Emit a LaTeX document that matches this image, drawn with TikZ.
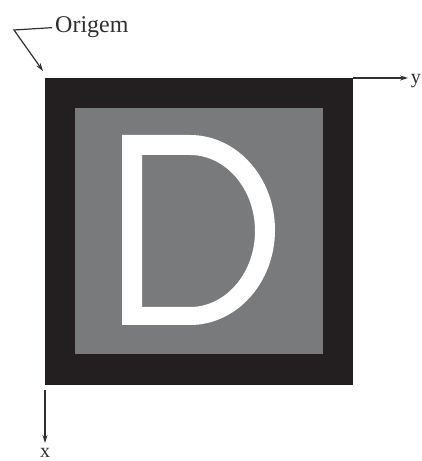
\documentclass[tikz,border=0pt]{standalone}
\usepackage{fontspec}
\setmainfont{Liberation Serif}
\usetikzlibrary{arrows.meta}
\definecolor{frameblack}{HTML}{231F20}
\definecolor{panelgray}{HTML}{797A7C}
\definecolor{inkline}{HTML}{303030}
\begin{document}
\begin{tikzpicture}[x=1pt,y=1pt,
  axisarrow/.style={-{Stealth[length=8pt,width=5pt]}, line width=1.2pt, draw=inkline},
  lbl/.style={font=\fontsize{24}{26}\selectfont, inner sep=0pt, text=inkline}]
\useasboundingbox (0,0) rectangle (422,461);
% frame and panel
\fill[frameblack] (45,383) rectangle (353,76);
\fill[panelgray] (75,353) rectangle (323,107);
% letter D
\fill[white, even odd rule]
  (122,326) -- (190,326) arc[start angle=90, end angle=-90, x radius=85, y radius=95] -- (122,136) -- cycle
  (142,306) -- (190,306) arc[start angle=90, end angle=-90, x radius=65, y radius=76] -- (142,154) -- cycle;
% labels
\node[lbl, anchor=base west] (orig) at (55,428) {Origem};
\node[lbl, font=\fontsize{20}{22}\selectfont, anchor=base east] (ylab) at (421,377) {y};
\node[lbl, font=\fontsize{20}{22}\selectfont, anchor=base] (xlab) at (45,3) {x};
% connector points
\coordinate (bend) at (14,431);
\coordinate (corner) at (43,390);
\coordinate (ystart) at (353,383);
\coordinate (yend) at (408,383);
\coordinate (xstart) at (45,71);
\coordinate (xend) at (45,18);
% arrows
\draw[axisarrow] (orig.west) ++(-3,0) -- (bend) -- (corner);
\draw[axisarrow] (ystart) -- (yend);
\draw[axisarrow] (xstart) -- (xend);
\end{tikzpicture}
\end{document}
